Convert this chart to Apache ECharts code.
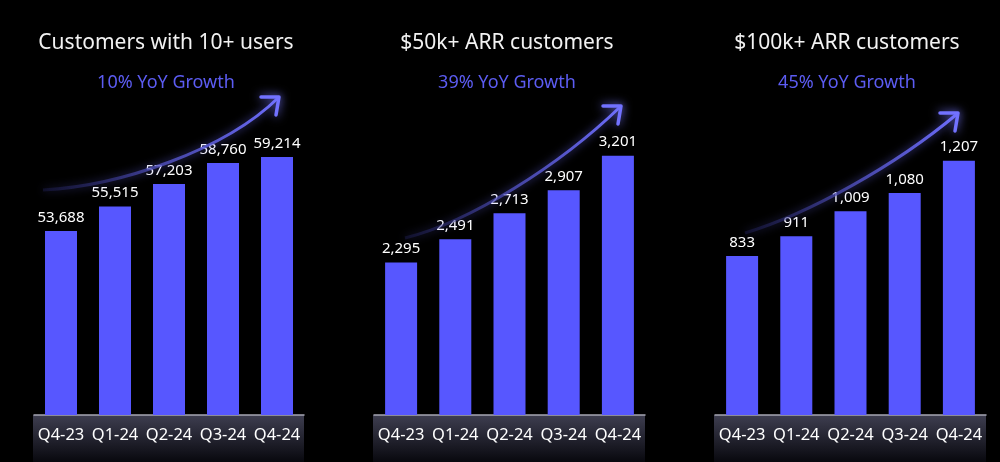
<!DOCTYPE html>
<html>
<head>
<meta charset="utf-8">
<style>
  html, body { margin: 0; padding: 0; background: #000; }
  #chart { width: 1000px; height: 462px; }
</style>
<script src="https://cdn.jsdelivr.net/npm/echarts@6/dist/echarts.min.js"></script>
</head>
<body>
<div id="chart"></div>
<script>
// ---- data ----
const categories = ['Q4-23', 'Q1-24', 'Q2-24', 'Q3-24', 'Q4-24'];
const users10Plus = [53688, 55515, 57203, 58760, 59214];
const arr50k = [2295, 2491, 2713, 2907, 3201];
const arr100k = [833, 911, 1009, 1080, 1207];
const panelTitles = ['Customers with 10+ users', '$50k+ ARR customers', '$100k+ ARR customers'];
const growthTexts = ['10% YoY Growth', '39% YoY Growth', '45% YoY Growth'];

// ---- layout / style ----
const FONT = '"Noto Sans", sans-serif';
const BAR = '#5757FF';
const grids = [
  { left: 34, width: 270 },
  { left: 374, width: 271 },
  { left: 715, width: 271 }
];
const yRanges = [[40000, 70000], [1000, 4420], [210, 1790]];
const titleCenters = [166, 507, 847];
const seriesData = [users10Plus, arr50k, arr100k];
const gridTop = 12, gridBottom = 47;

// decorative growth arrows (start, cp1, cp2, end, arrowhead)
const arrows = [
  { s: [43, 190], c1: [120, 186], c2: [225, 150], e: [278, 98], head: [[261, 97], [279, 97], [276, 115]] },
  { s: [405, 238], c1: [470, 222], c2: [560, 165], e: [620, 107], head: [[603, 106], [621, 106], [618, 124]] },
  { s: [745, 233], c1: [808, 214], c2: [895, 166], e: [957, 114], head: [[940, 113], [958, 113], [955, 131]] }
];

const chart = echarts.init(document.getElementById('chart'), null, { renderer: 'canvas' });

const option = {
  backgroundColor: '#000000',
  animation: false,
  grid: grids.map(g => ({ left: g.left, width: g.width, top: gridTop, bottom: gridBottom })),
  xAxis: grids.map((g, i) => ({
    type: 'category',
    gridIndex: i,
    data: categories,
    axisLine: { show: true, lineStyle: { color: '#A6A6B4', width: 1.5 } },
    axisTick: { show: false },
    axisLabel: {
      color: '#FFFFFF', fontSize: 16.5, fontFamily: FONT, margin: 12,
      interval: 0, hideOverlap: false
    }
  })),
  yAxis: grids.map((g, i) => ({
    type: 'value',
    gridIndex: i,
    min: yRanges[i][0],
    max: yRanges[i][1],
    show: false,
    splitLine: { show: false }
  })),
  series: seriesData.map((d, i) => ({
    type: 'bar',
    xAxisIndex: i,
    yAxisIndex: i,
    data: d,
    barWidth: 32,
    itemStyle: { color: BAR },
    label: {
      show: true,
      position: 'top',
      distance: 6,
      color: '#FFFFFF',
      fontSize: 15,
      fontFamily: FONT,
      formatter: p => p.value.toLocaleString('en-US')
    },
    z: 3
  })),
  graphic: []
};

const graphics = [];
grids.forEach((g, i) => {
  // footer band under axis
  graphics.push({
    type: 'rect',
    z: 0,
    silent: true,
    shape: { x: g.left - 1, y: 462 - gridBottom, width: g.width + 1, height: gridBottom },
    style: {
      fill: new echarts.graphic.LinearGradient(0, 0, 0, 1, [
        { offset: 0, color: '#3E3E50' },
        { offset: 1, color: '#08080E' }
      ])
    }
  });
  // titles
  graphics.push({
    type: 'text',
    z: 10,
    style: {
      text: panelTitles[i], x: titleCenters[i], y: 43,
      align: 'center', verticalAlign: 'middle',
      fill: '#F2F2F2', font: '21px ' + FONT
    }
  });
  graphics.push({
    type: 'text',
    z: 10,
    style: {
      text: growthTexts[i], x: titleCenters[i], y: 83,
      align: 'center', verticalAlign: 'middle',
      fill: '#5C5CF2', font: '18px ' + FONT
    }
  });
  // arrow
  const a = arrows[i];
  graphics.push({
    type: 'bezierCurve',
    z: 5,
    silent: true,
    shape: { x1: a.s[0], y1: a.s[1], cpx1: a.c1[0], cpy1: a.c1[1], cpx2: a.c2[0], cpy2: a.c2[1], x2: a.e[0], y2: a.e[1] },
    style: {
      stroke: new echarts.graphic.LinearGradient(0, 0, 1, 0, [
        { offset: 0, color: 'rgba(40,40,110,0.3)' },
        { offset: 0.5, color: 'rgba(80,80,190,0.8)' },
        { offset: 1, color: '#6E6EFF' }
      ]),
      lineWidth: 3,
      fill: null,
      shadowBlur: 8,
      shadowColor: 'rgba(110,110,255,0.7)'
    }
  });
  graphics.push({
    type: 'polyline',
    z: 5,
    silent: true,
    shape: { points: a.head },
    style: {
      stroke: '#7272FF',
      lineWidth: 3.5,
      fill: null,
      lineCap: 'round',
      lineJoin: 'round',
      shadowBlur: 10,
      shadowColor: 'rgba(120,120,255,0.9)'
    }
  });
});
option.graphic = graphics;

chart.setOption(option);
</script>
</body>
</html>
